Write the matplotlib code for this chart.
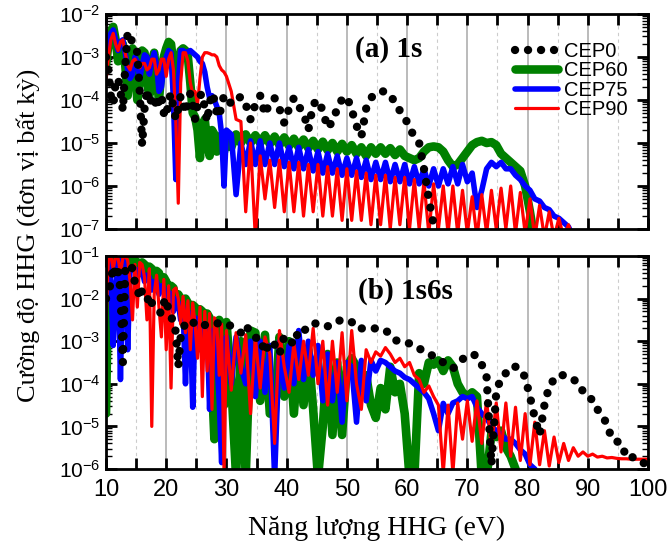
import numpy as np
import matplotlib
matplotlib.use("Agg")
import matplotlib.pyplot as plt
from matplotlib.ticker import MultipleLocator, LogLocator, NullFormatter, FuncFormatter

plt.rcParams['font.family'] = ['Liberation Sans', 'DejaVu Sans']
plt.rcParams['mathtext.fontset'] = 'custom'
plt.rcParams['mathtext.rm'] = 'Liberation Sans'

# ---------------- energy sampling (eV) ----------------
energy_lo = np.round(np.arange(10.0, 29.61, 0.4), 1)   # 10.0 ... 29.6
energy_hi = np.round(np.arange(30.0, 100.41, 0.8), 1)  # 30.0 ... 100.4

# ---------------- panel (a) 1s : log10 intensity ----------------
a_cep0_lo = [-3.0, -3.3, -3.9, -4.1, -3.6, -3.5, -3.8, -4.25, -3.2, -2.42,
             -2.55, -2.65, -2.72, -2.9, -3.8, -5.05, -4.2, -3.75, -4.1, -3.95,
             -3.9, -4.2, -4.0, -3.88, -4.3, -4.4, -4.0, -3.85, -4.2, -4.45,
             -4.2, -3.9, -4.1, -4.3, -4.0, -3.85, -4.1, -4.45, -4.1, -3.9,
             -3.85, -4.2, -4.5, -4.1, -3.84, -4.0, -4.3, -4.4, -4.1, -3.9]
a_cep0_hi = [-3.9, -4.1, -4.0, -3.92, -4.1, -4.45, -4.1, -3.9, -4.34, -4.05,
             -3.96, -4.2, -4.53, -4.2, -3.95, -4.15, -4.3, -4.7, -4.1, -4.0,
             -4.25, -4.65, -4.5, -4.2, -3.98, -3.92, -4.23, -4.6, -4.85, -4.2,
             -3.95, -3.85, -3.8, -3.8, -3.9, -4.05, -4.25, -4.4, -4.65, -4.85,
             -5.0, -5.6, -6.3, -6.9, -7.4]

a_cep60_lo = [-3.2, -2.7, -2.4, -2.3, -2.6, -3.1, -2.8, -2.7, -3.2, -3.9,
              -3.3, -2.8, -3.1, -4.0, -3.5, -2.85, -2.9, -3.6, -3.9, -3.1,
              -2.9, -3.5, -4.0, -3.3, -3.0, -2.8, -2.65, -2.7, -3.2, -4.0,
              -3.3, -2.85, -2.8, -2.85, -3.0, -3.6, -4.3, -4.4, -4.7, -5.35,
              -4.6, -4.45, -5.0, -5.3, -4.7, -4.8, -5.2, -4.85, -4.9, -5.2]
a_cep60_hi = [-4.85, -5.1, -4.8, -5.0, -4.8, -5.0, -4.82, -5.0, -4.82, -5.02,
              -4.85, -5.05, -4.87, -5.07, -4.9, -5.1, -4.92, -5.12, -4.95, -5.15,
              -4.97, -5.17, -5.0, -5.2, -5.02, -5.2, -5.05, -5.25, -5.1, -5.3,
              -5.1, -5.25, -5.1, -5.25, -5.12, -5.28, -5.15, -5.3, -5.35, -5.4,
              -5.35, -5.2, -5.1, -5.08, -5.1, -5.2, -5.4, -5.55, -5.5, -5.35,
              -5.2, -5.05, -4.98, -4.95, -5.0, -4.98, -5.05, -5.25, -5.35, -5.45,
              -5.55, -5.65, -6.0, -6.6, -7.3]

a_cep75_lo = [-3.0, -2.7, -2.45, -2.37, -2.6, -2.85, -2.65, -2.6, -2.9, -3.3,
              -3.5, -3.4, -3.0, -3.1, -3.5, -3.2, -2.95, -3.0, -3.4, -3.1,
              -2.9, -3.2, -3.8, -3.7, -3.2, -3.0, -2.85, -2.9, -4.0, -5.85,
              -3.6, -2.85, -2.85, -2.9, -2.88, -2.85, -2.9, -2.95, -3.0, -3.1,
              -3.15, -3.35, -3.7, -3.95, -3.9, -4.0, -4.15, -4.3, -4.8, -6.0]
a_cep75_hi = [-4.7, -4.8, -6.2, -5.0, -5.5, -4.95, -5.5, -4.95, -5.5, -5.0,
              -5.5, -5.0, -5.55, -5.1, -5.6, -5.1, -5.6, -5.15, -5.65, -5.2,
              -5.7, -5.25, -5.7, -5.3, -5.75, -5.35, -5.75, -5.35, -5.8, -5.4,
              -5.85, -5.45, -5.85, -5.45, -5.9, -5.5, -5.9, -5.5, -5.95, -5.55,
              -5.95, -5.6, -6.0, -5.6, -6.0, -5.6, -5.95, -5.55, -5.95, -5.5,
              -5.9, -5.7, -6.5, -6.1, -5.6, -5.45, -5.55, -5.45, -5.6, -5.6,
              -5.75, -5.85, -6.0, -6.1, -6.3, -6.35, -6.5, -6.55, -6.7, -6.75,
              -6.85, -6.95, -7.2]

a_cep90_lo = [-3.55, -3.0, -2.6, -2.45, -2.7, -2.85, -2.65, -2.6, -2.9, -3.2,
              -3.3, -3.1, -3.05, -3.15, -3.25, -3.15, -3.15, -3.3, -3.25, -3.05,
              -3.05, -3.4, -3.3, -3.05, -3.05, -3.45, -3.05, -2.9, -3.3, -4.5,
              -6.4, -3.6, -2.9, -2.9, -3.1, -3.6, -3.85, -3.8, -4.1, -3.5,
              -3.0, -2.9, -2.9, -2.92, -2.95, -2.95, -3.0, -3.2, -3.3, -3.35]
a_cep90_hi = [-3.45, -3.8, -4.45, -4.5, -6.6, -5.0, -7.2, -5.3, -6.3, -5.4,
              -6.5, -5.4, -6.6, -5.45, -6.6, -5.45, -6.7, -5.5, -6.6, -5.5,
              -6.7, -5.55, -6.7, -5.6, -6.8, -5.6, -6.8, -5.65, -6.8, -5.7,
              -6.9, -5.75, -6.9, -5.75, -7.0, -5.8, -6.9, -5.8, -7.0, -5.85,
              -7.0, -5.9, -7.1, -5.95, -7.0, -6.0, -7.1, -6.0, -7.1, -6.1,
              -7.1, -6.25, -7.2, -6.2, -7.1, -6.1, -7.0, -6.05, -7.0, -6.0,
              -7.1, -6.15, -7.1, -6.3, -7.2, -6.45, -7.2, -6.6, -7.2, -6.75,
              -7.2, -6.9, -7.3]

# ---------------- panel (b) 1s6s : log10 intensity ----------------
b_cep0_lo = [-2.0, -1.9, -1.6, -1.24, -1.5, -1.36, -1.8, -3.5, -1.3, -1.22,
             -1.2, -1.3, -1.63, -1.75, -2.0, -1.8, -1.85, -1.9, -2.2, -2.1,
             -2.15, -2.2, -2.3, -2.35, -2.1, -1.99, -2.3, -2.45, -2.5, -2.8,
             -3.6, -2.9, -2.7, -2.58, -2.55, -2.5, -2.55, -2.6, -2.65, -2.66,
             -2.64, -2.62, -2.62, -2.6, -2.6, -2.58, -2.58, -2.58, -2.58, -2.58]
b_cep0_hi = [-2.58, -2.65, -2.74, -2.8, -2.62, -2.8, -2.92, -2.92, -3.28, -3.0,
             -3.08, -3.3, -2.88, -2.95, -3.08, -2.73, -2.77, -2.65, -2.57, -2.6,
             -2.65, -2.65, -2.6, -2.53, -2.5, -2.5, -2.55, -2.7, -2.7, -2.7,
             -2.7, -2.7, -2.72, -2.74, -2.85, -2.97, -3.02, -3.05, -3.05, -3.1,
             -3.17, -3.24, -3.3, -3.35, -3.4, -3.5, -3.58, -3.64, -3.55, -3.42,
             -3.36, -3.3, -3.35, -3.55, -3.85, -5.9, -4.2, -3.85, -3.75, -3.6,
             -3.6, -3.65, -3.85, -4.3, -4.8, -5.2, -4.5, -4.05, -3.9, -3.79,
             -3.8, -3.84, -3.9, -3.97, -4.18, -4.33, -4.37, -4.6, -4.75, -4.95,
             -5.3, -5.35, -5.4, -5.73, -5.7, -5.78, -5.8, -5.9, -5.9]

b_cep60_lo = [-4.7, -1.2, -1.0, -1.1, -1.0, -1.2, -1.0, -1.05, -1.2, -1.0,
              -1.1, -1.3, -1.1, -1.15, -1.4, -1.15, -1.2, -1.5, -1.25, -1.3,
              -1.6, -1.35, -1.4, -1.75, -1.5, -1.6, -1.9, -1.7, -1.75, -2.1,
              -1.9, -2.0, -2.3, -2.0, -2.1, -2.5, -2.15, -2.2, -2.8, -2.25,
              -2.3, -3.0, -2.35, -2.45, -4.0, -5.3, -3.0, -2.5, -2.6, -4.5]
b_cep60_hi = [-2.55, -4.0, -6.2, -3.0, -6.2, -2.75, -2.8, -4.4, -2.85, -4.7,
              -4.7, -2.9, -4.3, -3.0, -4.7, -3.1, -4.5, -3.2, -4.6, -6.2,
              -5.0, -3.3, -5.2, -3.5, -5.2, -3.6, -3.4, -3.6, -4.1, -3.8,
              -4.5, -4.8, -4.1, -4.6, -3.6, -4.2, -4.0, -4.7, -6.2, -6.2,
              -3.75, -4.0, -3.5, -3.55, -3.45, -3.7, -3.45, -3.6, -4.0, -4.2,
              -4.3, -4.2, -4.3, -6.2, -6.2, -5.15, -5.25, -5.1, -5.5, -5.7,
              -6.0, -6.3]

b_cep75_lo = [-1.3, -1.0, -1.6, -3.1, -1.8, -1.05, -3.9, -1.2, -1.1, -3.2,
              -1.3, -1.25, -1.3, -1.5, -1.3, -1.35, -1.6, -1.45, -1.5, -1.8,
              -1.6, -1.6, -1.9, -1.7, -1.75, -2.1, -1.85, -1.9, -2.3, -2.0,
              -2.1, -2.5, -2.2, -4.0, -2.3, -2.4, -4.55, -2.45, -2.5, -3.2,
              -2.6, -3.0, -2.7, -4.6, -2.75, -2.8, -3.4, -4.4, -5.85, -3.0]
b_cep75_hi = [-2.9, -4.0, -2.9, -3.6, -4.0, -3.0, -4.3, -3.0, -4.2, -3.1,
              -6.2, -3.0, -4.1, -3.1, -4.0, -2.75, -3.9, -3.0, -3.8, -3.1,
              -4.4, -3.3, -4.4, -3.5, -4.9, -3.5, -3.6, -4.9, -3.45, -4.4,
              -3.45, -3.7, -3.45, -3.5, -3.6, -3.7, -3.75, -3.85, -3.9, -4.0,
              -4.1, -4.2, -4.35, -4.7, -5.1, -4.46, -4.7, -4.45, -4.4, -4.3,
              -4.35, -4.3, -4.55, -4.7, -4.8, -5.0, -5.1, -5.2, -5.3, -5.3,
              -5.4, -5.55, -5.65, -5.9, -6.0, -6.2]

b_cep90_lo = [-2.5, -1.1, -1.0, -1.3, -1.0, -1.05, -1.4, -1.05, -1.0, -1.1,
              -1.6, -2.5, -1.2, -2.2, -1.15, -1.2, -1.5, -2.5, -1.3, -5.0,
              -1.9, -1.45, -2.2, -2.9, -1.55, -3.2, -1.7, -4.1, -1.8, -1.75,
              -2.0, -2.6, -1.95, -2.8, -2.05, -3.2, -2.1, -2.6, -3.4, -2.2,
              -4.3, -2.3, -3.7, -2.35, -4.6, -2.45, -2.6, -3.8, -2.6, -6.1]
b_cep90_hi = [-2.75, -4.15, -2.8, -3.75, -2.85, -4.7, -2.9, -4.1, -2.9, -3.3,
              -5.4, -2.75, -3.6, -4.2, -3.05, -3.9, -3.0, -3.8, -2.7, -4.0,
              -3.0, -4.5, -3.0, -4.2, -2.8, -4.4, -2.75, -4.0, -4.6, -3.2,
              -3.5, -3.25, -3.35, -3.15, -3.3, -3.5, -3.4, -3.6, -3.5, -3.8,
              -3.9, -4.2, -4.05, -4.3, -4.5, -6.1, -4.5, -6.1, -4.45, -5.3,
              -4.4, -5.35, -4.4, -5.4, -4.4, -5.5, -4.45, -5.6, -4.45, -5.7,
              -4.55, -5.8, -4.7, -5.9, -4.9, -5.9, -5.1, -5.93, -5.25, -5.85,
              -5.4, -5.8, -5.5, -5.7, -5.6, -5.7, -5.65, -5.72, -5.7, -5.74,
              -5.73, -5.75, -5.76, -5.76, -5.77, -5.77, -5.77, -5.77, -5.77]

labels = ['CEP0', 'CEP60', 'CEP75', 'CEP90']
colors = ['black', '#008000', '#0000ff', '#ff0000']
widths = [6.0, 6.2, 4.0, 2.3]


def series(lo, hi):
    y = np.array(lo + hi, dtype=float)
    x = np.concatenate([energy_lo, energy_hi])[:len(y)]
    return x, 10.0 ** y


def draw(ax, data):
    handles = {}
    order = [1, 2, 3, 0]  # green, blue, red underneath; black dots on top
    for i in order:
        x, y = series(*data[i])
        if i == 0:
            h, = ax.plot(x, y, color=colors[i], lw=widths[i], ls=(0, (0.01, 1.55)),
                         dash_capstyle='round', zorder=5, label=labels[i])
        else:
            h, = ax.plot(x, y, color=colors[i], lw=widths[i], solid_joinstyle='round',
                         solid_capstyle='round', zorder=2 + i, label=labels[i])
        handles[i] = h
    return [handles[i] for i in range(4)]


def style(ax, ylo, yhi, xlabels):
    ax.set_xlim(10, 100)
    ax.set_yscale('log')
    ax.set_ylim(10.0 ** ylo, 10.0 ** yhi)
    ax.xaxis.set_major_locator(MultipleLocator(10))
    ax.xaxis.set_minor_locator(MultipleLocator(5))
    ax.yaxis.set_major_locator(LogLocator(base=10, numticks=20))
    ax.yaxis.set_minor_locator(LogLocator(base=10, subs=np.arange(2, 10), numticks=20))
    ax.yaxis.set_minor_formatter(NullFormatter())
    ax.yaxis.set_major_formatter(FuncFormatter(
        lambda v, p: r'$\mathregular{10^{%d}}$' % int(round(np.log10(v)))))
    ax.tick_params(which='both', direction='in', top=True, right=True)
    ax.tick_params(which='major', length=8, width=2)
    ax.tick_params(axis='x', which='minor', length=8, width=2)
    ax.tick_params(axis='y', which='minor', length=4.5, width=1)
    ax.tick_params(axis='y', which='major', labelsize=15, pad=4)
    ax.tick_params(axis='x', which='major', labelsize=17, pad=7, labelbottom=xlabels)
    ax.grid(True, which='major', axis='x', color='#a8a8a8', lw=1.1)
    ax.grid(True, which='minor', axis='x', color='#cccccc', lw=0.8, ls=(0, (3, 3)))
    ax.grid(False, axis='y', which='both')
    ax.set_axisbelow(True)
    for s in ax.spines.values():
        s.set_linewidth(2)
        s.set_zorder(10)


fig = plt.figure(figsize=(6.71, 5.46), dpi=100)
W, H = 671.0, 546.0
ax1 = fig.add_axes([106 / W, 1 - 229 / H, 542 / W, 215 / H])
ax2 = fig.add_axes([106 / W, 1 - 469 / H, 542 / W, 213 / H])

h1 = draw(ax1, [(a_cep0_lo, a_cep0_hi), (a_cep60_lo, a_cep60_hi),
                (a_cep75_lo, a_cep75_hi), (a_cep90_lo, a_cep90_hi)])
draw(ax2, [(b_cep0_lo, b_cep0_hi), (b_cep60_lo, b_cep60_hi),
           (b_cep75_lo, b_cep75_hi), (b_cep90_lo, b_cep90_hi)])

style(ax1, -7, -2, False)
style(ax2, -6, -1, True)

ax1.text(0.522, 0.837, '(a) 1s', transform=ax1.transAxes, ha='center', va='center',
         fontsize=21, fontweight='bold', family='Liberation Serif', zorder=12)
ax2.text(0.553, 0.836, '(b) 1s6s', transform=ax2.transAxes, ha='center', va='center',
         fontsize=21, fontweight='bold', family='Liberation Serif', zorder=12)

leg = ax1.legend(handles=h1, labels=labels, loc='upper left', bbox_to_anchor=(0.755, 0.87),
                 frameon=False, fontsize=14.5, handlelength=2.1, handletextpad=0.3,
                 labelspacing=0.02, borderpad=0, borderaxespad=0)
leg.set_zorder(12)

fig.text(28 / W, 0.568, 'Cường độ HHG (đơn vị bất kỳ)', rotation=90, ha='center', va='center',
         fontsize=19, family='Liberation Serif')
fig.text(377 / W, 1 - 535 / H, 'Năng lượng HHG (eV)', ha='center', va='baseline',
         fontsize=20, family='Liberation Serif')

fig.savefig('out.png', dpi=100)
